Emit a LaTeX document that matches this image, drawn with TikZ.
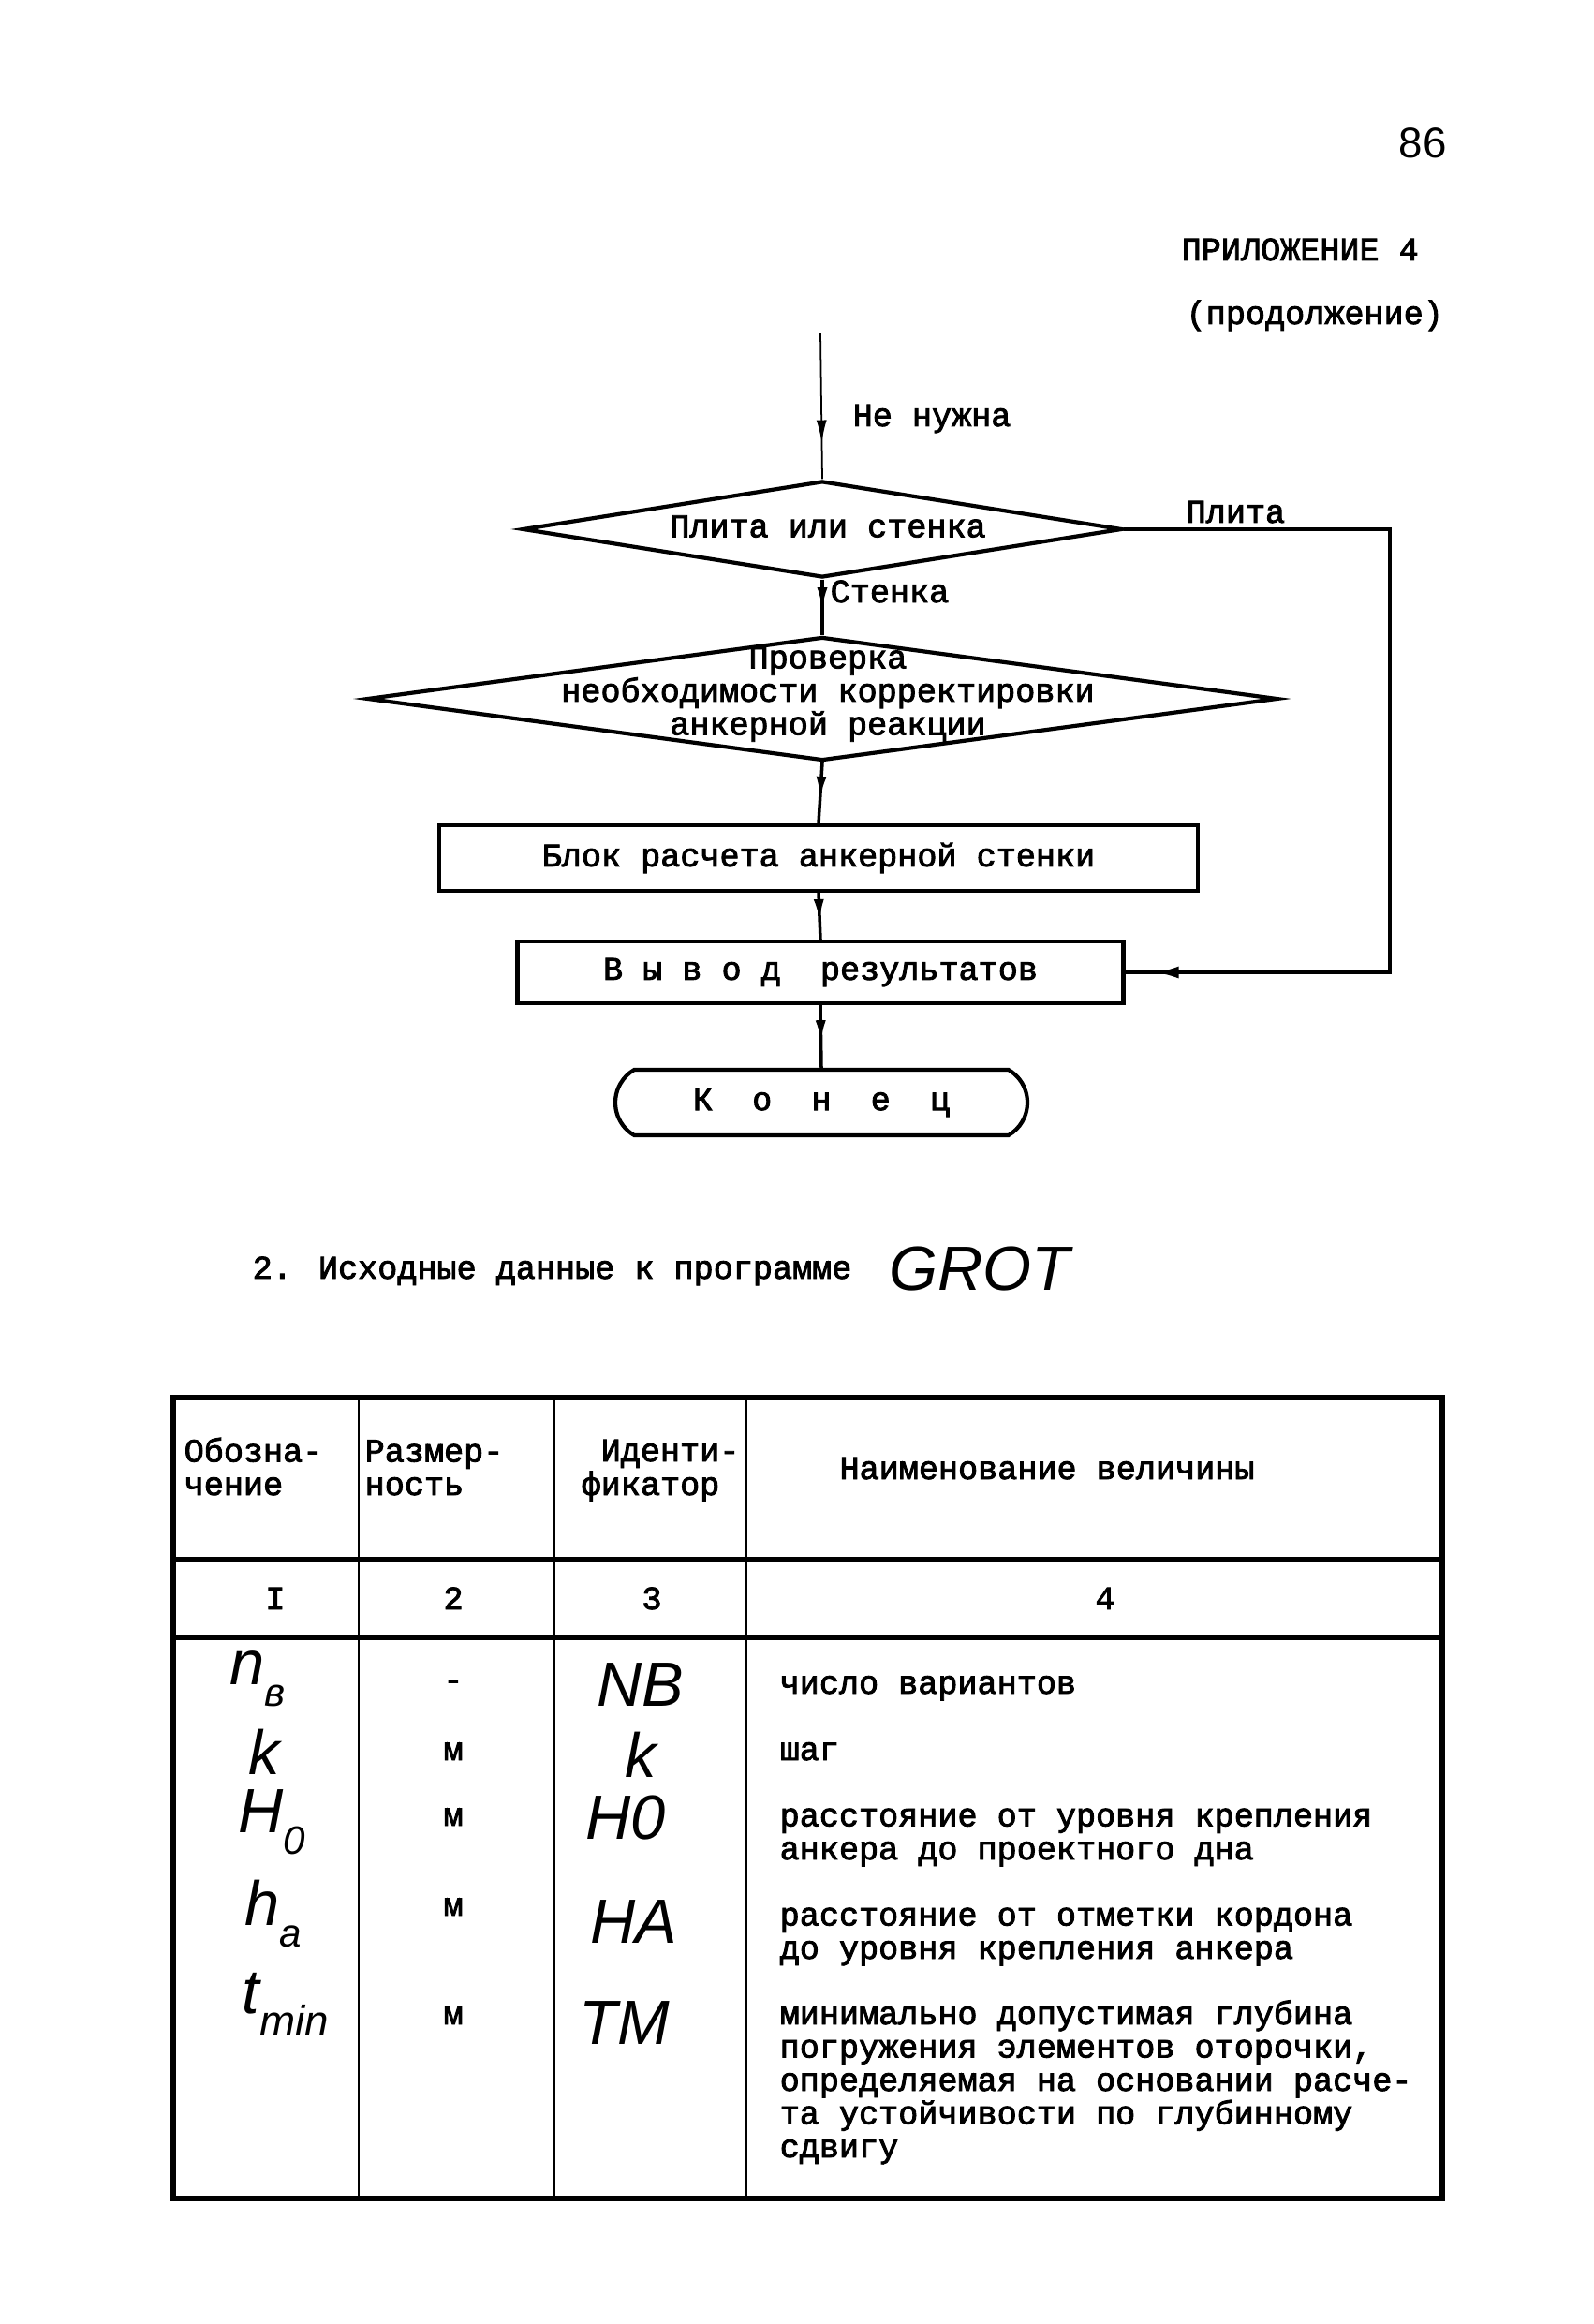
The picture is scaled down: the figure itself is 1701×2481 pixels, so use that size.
\documentclass[tikz,border=0pt]{standalone}
\usepackage{fontspec}
\setmainfont{Liberation Mono}[FakeBold=2.5]
\newfontfamily\handfont{Liberation Sans}
\newfontfamily\pagefont{Liberation Sans}
\usetikzlibrary{shapes.geometric,shapes.misc,arrows.meta,decorations.markings}
\begin{document}
\begin{tikzpicture}[x=0.1mm,y=-0.1mm,
  tw/.style={font=\fontsize{10}{10.1}\selectfont, inner sep=0pt},
  cell/.style={tw, anchor=base west, align=left},
  hw/.style={font=\handfont\itshape\fontsize{19}{19}\selectfont, inner sep=0pt},
  flow/.style={line width=1pt},
  thinflow/.style={line width=0.5pt},
  boxst/.style={draw, line width=1.2pt, inner sep=0pt, tw},
  decision/.style={diamond, draw, line width=1.2pt, inner sep=0pt},
  terminal/.style={rounded rectangle, rounded rectangle arc length=120, draw, line width=1.2pt, inner sep=0pt, tw},
  midarrow/.style={postaction={decorate,decoration={markings,mark=at position #1 with {\arrow{Latex[length=2.4mm,width=1.1mm]}}}}},
  endarrow/.style={postaction={decorate,decoration={markings,mark=at position -3.1mm with {\arrow{Latex[length=2.6mm,width=1.3mm]}}}}},
  tableouter/.style={line width=1.6pt},
  tableinner/.style={line width=0.8pt}
]
\useasboundingbox[fill=white] (0,0) rectangle (1701,2481);

% page header
\node[font=\pagefont\fontsize{13}{13}\selectfont, inner sep=0pt] (pageno) at (1519,153) {86};
\node[tw, anchor=base west] (appx) at (1261,278) {ПРИЛОЖЕНИЕ 4};
\node[tw, anchor=base west] (cont) at (1266,346) {(продолжение)};

% flowchart
\coordinate (start) at (876,356);
\node[decision, minimum width=64mm, minimum height=10.3mm] (d1) at (878,565) {};
\node[tw] (d1t) at (884,562) {Плита или стенка};
\node[decision, minimum width=97.2mm, minimum height=13.2mm] (d2) at (878,746) {};
\node[tw, align=center] (d2t) at (884,741) {Проверка\\необходимости корректировки\\анкерной реакции};
\node[boxst, minimum width=81mm, minimum height=7mm] (box1) at (874,916) {Блок расчета анкерной стенки};
\node[boxst, minimum width=64.7mm, minimum height=6.6mm] (box2) at (876,1038) {В~ы~в~о~д~~результатов};
\node[terminal, minimum width=44mm, minimum height=7mm] (term) at (877,1177) {К~~о~~н~~е~~ц};
\coordinate (c1) at (1484,565);

\draw[thinflow, midarrow=0.75] (start) -- (d1.north);
\draw[flow, midarrow=0.55] (d1.south) -- (d2.north);
\draw[flow, midarrow=0.6] (d2.south) -- (box1.north);
\draw[flow, midarrow=0.62] (box1.south) -- (box2.north);
\draw[flow, midarrow=0.6] (box2.south) -- (term.north);
\draw[flow, endarrow] (d1.east) -- (c1) |- (box2.east);

\node[tw, anchor=base west] (lnn) at (910,455) {Не нужна};
\node[tw, anchor=base west] (lpl) at (1266,558) {Плита};
\node[tw, anchor=base west] (lst) at (886,643) {Стенка};

% section title
\node[tw, anchor=base west] (title) at (269,1365) {2. Исходные данные к программе};
\node[hw, anchor=base west] (grot) at (949,1377) {GROT};

% table
\draw[tableouter] (185,1492) rectangle (1540,2347);
\draw[tableouter] (185,1665) -- (1540,1665);
\draw[tableouter] (185,1748) -- (1540,1748);
\foreach \cx in {383,592,797} \draw[tableinner] (\cx,1492) -- (\cx,2347);

\node[cell] (h1) at (196,1596) {Обозна-\\чение};
\node[cell] (h2) at (389,1596) {Размер-\\ность};
\node[cell] (h3a) at (641,1560) {Иденти-};
\node[cell] (h3b) at (620,1596) {фикатор};
\node[tw, anchor=base] (h4) at (1118,1579) {Наименование величины};

\node[tw, anchor=base] (n1) at (294,1718) {I};
\node[tw, anchor=base] (n2) at (484,1718) {2};
\node[tw, anchor=base] (n3) at (696,1718) {3};
\node[tw, anchor=base] (n4) at (1180,1718) {4};

% row 1
\node[hw] (s1) at (275,1792) {n\raisebox{-0.35em}{\fontsize{12}{12}\selectfont в}};
\node[tw] (u1) at (484,1799) {-};
\node[hw] (i1) at (684,1799) {NB};
\node[cell] (t1) at (832,1808) {число вариантов};
% row 2
\node[hw] (s2) at (282,1870) {k};
\node[tw, anchor=base] (u2) at (484,1879) {м};
\node[hw] (i2) at (684,1873) {k};
\node[cell] (t2) at (832,1879) {шаг};
% row 3
\node[hw] (s3) at (290,1945) {H\raisebox{-0.35em}{\fontsize{12}{12}\selectfont 0}};
\node[tw, anchor=base] (u3) at (484,1949) {м};
\node[hw] (i3) at (668,1940) {H0};
\node[cell] (t3) at (832,1985) {расстояние от уровня крепления\\анкера до проектного дна};
% row 4
\node[hw] (s4) at (292,2043) {h\raisebox{-0.35em}{\fontsize{12}{12}\selectfont a}};
\node[tw, anchor=base] (u4) at (484,2045) {м};
\node[hw] (i4) at (677,2052) {HA};
\node[cell] (t4) at (832,2091) {расстояние от отметки кордона\\до уровня крепления анкера};
% row 5
\node[hw] (s5) at (305,2140) {t\raisebox{-0.35em}{\fontsize{13}{13}\selectfont min}};
\node[tw, anchor=base] (u5) at (484,2161) {м};
\node[hw] (i5) at (667,2160) {TM};
\node[cell] (t5) at (832,2303) {минимально допустимая глубина\\погружения элементов оторочки,\\определяемая на основании расче-\\та устойчивости по глубинному\\сдвигу};
\end{tikzpicture}
\end{document}
